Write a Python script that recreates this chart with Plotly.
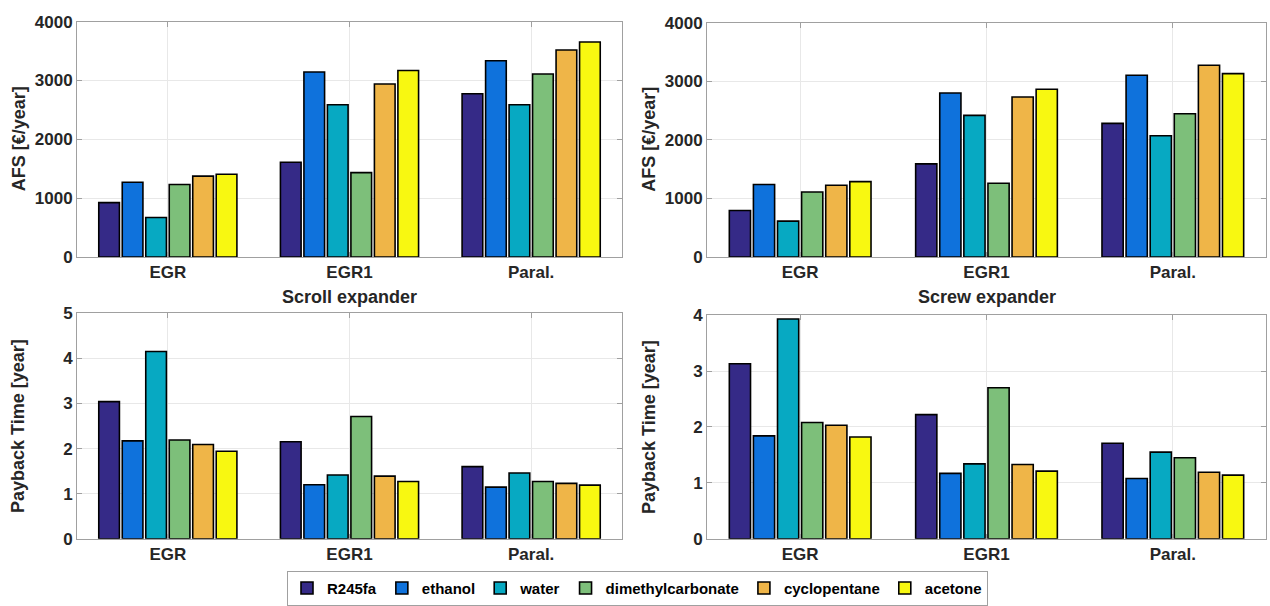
import plotly.graph_objects as go
from plotly.subplots import make_subplots

# Configurations (x categories) and working fluids (series)
configs = ["EGR", "EGR1", "Paral."]
fluids = ["R245fa", "ethanol", "water", "dimethylcarbonate", "cyclopentane", "acetone"]
fluid_colors = ["#352A87", "#0F72DC", "#07A9C2", "#7DBF7A", "#EFB548", "#F8F811"]

# Annual financial savings, scroll expander [€/year], one list per fluid
afs_scroll_r245fa = [923, 1610, 2775]
afs_scroll_ethanol = [1270, 3143, 3335]
afs_scroll_water = [670, 2588, 2588]
afs_scroll_dmc = [1231, 1434, 3110]
afs_scroll_cyclopentane = [1374, 2940, 3516]
afs_scroll_acetone = [1407, 3170, 3654]

# Annual financial savings, screw expander [€/year]
afs_screw_r245fa = [794, 1589, 2279]
afs_screw_ethanol = [1236, 2797, 3101]
afs_screw_water = [612, 2417, 2069]
afs_screw_dmc = [1109, 1258, 2444]
afs_screw_cyclopentane = [1225, 2731, 3272]
afs_screw_acetone = [1286, 2863, 3128]

# Payback time, scroll expander [year]
pb_scroll_r245fa = [3.04, 2.15, 1.60]
pb_scroll_ethanol = [2.17, 1.20, 1.145]
pb_scroll_water = [4.15, 1.415, 1.46]
pb_scroll_dmc = [2.19, 2.71, 1.27]
pb_scroll_cyclopentane = [2.09, 1.39, 1.23]
pb_scroll_acetone = [1.94, 1.27, 1.19]

# Payback time, screw expander [year]
pb_screw_r245fa = [3.13, 2.22, 1.71]
pb_screw_ethanol = [1.84, 1.17, 1.08]
pb_screw_water = [3.93, 1.34, 1.55]
pb_screw_dmc = [2.08, 2.70, 1.45]
pb_screw_cyclopentane = [2.03, 1.33, 1.19]
pb_screw_acetone = [1.82, 1.21, 1.14]

panels = [
    (1, 1, [afs_scroll_r245fa, afs_scroll_ethanol, afs_scroll_water,
            afs_scroll_dmc, afs_scroll_cyclopentane, afs_scroll_acetone]),
    (1, 2, [afs_screw_r245fa, afs_screw_ethanol, afs_screw_water,
            afs_screw_dmc, afs_screw_cyclopentane, afs_screw_acetone]),
    (2, 1, [pb_scroll_r245fa, pb_scroll_ethanol, pb_scroll_water,
            pb_scroll_dmc, pb_scroll_cyclopentane, pb_scroll_acetone]),
    (2, 2, [pb_screw_r245fa, pb_screw_ethanol, pb_screw_water,
            pb_screw_dmc, pb_screw_cyclopentane, pb_screw_acetone]),
]

W, H = 1270, 606
TEXT = "#262626"
AXIS = "#A0A0A0"
GRID = "#E8E8E8"
FONT = "Liberation Sans, Arial, sans-serif"

fig = make_subplots(rows=2, cols=2)

for row, col, series in panels:
    for name, color, values in zip(fluids, fluid_colors, series):
        fig.add_trace(
            go.Bar(
                x=configs, y=values, name=name,
                marker=dict(color=color, line=dict(color="black", width=1.6)),
                showlegend=(row == 1 and col == 1),
                legendgroup=name,
            ),
            row=row, col=col,
        )

# axes placement in pixels: (left, right, top, bottom)
boxes = {
    (1, 1): (77, 622, 13, 256),
    (1, 2): (707, 1266, 14, 256),
    (2, 1): (77, 622, 314, 547),
    (2, 2): (707, 1266, 316, 547),
}
yranges = {(1, 1): 4000, (1, 2): 4000, (2, 1): 5, (2, 2): 4}
ydticks = {(1, 1): 1000, (1, 2): 1000, (2, 1): 1, (2, 2): 1}

axis_common = dict(
    showline=True, linecolor=AXIS, linewidth=1, mirror="ticks",
    ticks="inside", ticklen=5, tickcolor=AXIS,
    showgrid=True, gridcolor=GRID, gridwidth=1,
    zeroline=False,
    tickfont=dict(family=FONT, size=17, color=TEXT, weight="bold"),
)

for (row, col), (l, r, t, b) in boxes.items():
    fig.update_xaxes(domain=[l / W, r / W], row=row, col=col, **axis_common)
    fig.update_yaxes(domain=[1 - b / H, 1 - t / H], range=[0, yranges[(row, col)]],
                     dtick=ydticks[(row, col)], row=row, col=col, **axis_common)

title_font = dict(family=FONT, size=18, color=TEXT, weight="bold")

# x-axis titles under the top row
fig.add_annotation(text="Scroll expander", x=(77 + 622) / 2 / W, y=1 - 297 / H,
                   xref="paper", yref="paper", showarrow=False, font=title_font,
                   xanchor="center", yanchor="middle")
fig.add_annotation(text="Screw expander", x=(707 + 1266) / 2 / W, y=1 - 297 / H,
                   xref="paper", yref="paper", showarrow=False, font=title_font,
                   xanchor="center", yanchor="middle")

# y-axis titles
ytitles = [
    ("AFS [€/year]", 19, (13 + 256) / 2),
    ("AFS [€/year]", 649, (14 + 256) / 2),
    ("Payback Time [year]", 18, (314 + 547) / 2),
    ("Payback Time [year]", 649, (316 + 547) / 2),
]
for text, px, py in ytitles:
    fig.add_annotation(text=text, x=px / W, y=1 - py / H, xref="paper", yref="paper",
                       showarrow=False, textangle=-90, font=title_font,
                       xanchor="center", yanchor="middle")

fig.update_layout(
    width=W, height=H,
    margin=dict(l=0, r=0, t=0, b=0),
    paper_bgcolor="white", plot_bgcolor="white",
    barmode="group", bargap=0.224, bargroupgap=0.12,
    font=dict(family=FONT, color=TEXT),
    legend=dict(
        orientation="h", x=637.5 / W, y=1 - 580 / H, xanchor="center", yanchor="top",
        bgcolor="white", bordercolor=AXIS, borderwidth=1,
        font=dict(family=FONT, size=15, color="black", weight="bold"),
        itemwidth=30, tracegroupgap=0,
    ),
)

fig.write_html("out.html")
